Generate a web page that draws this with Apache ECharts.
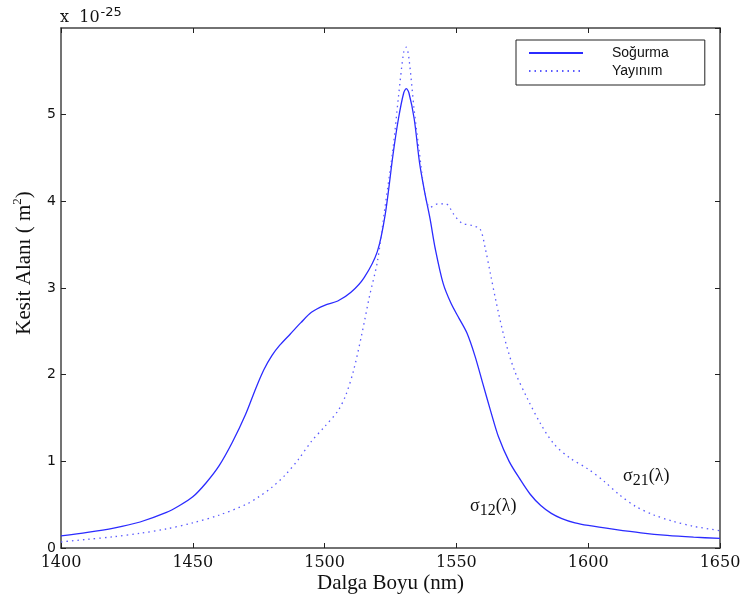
<!DOCTYPE html>
<html>
<head>
<meta charset="utf-8">
<script src="https://cdn.jsdelivr.net/npm/echarts@6/dist/echarts.min.js"></script>
<style>html,body{margin:0;padding:0;background:#fff}#c{width:744px;height:605px}</style>
</head>
<body>
<div id="c"></div>
<script>
var seriesNames = ['Soğurma', 'Yayınım'];
var xTicks = [1400, 1450, 1500, 1550, 1600, 1650];
var yTicks = [0, 1, 2, 3, 4, 5];

var absWl = [1400,1410,1420,1430,1440,1445,1450,1455,1460,1465,1470,1474,1477,1480,1483,1487,1491,1495,1500,1505,1510,1515,1520,1523,1526,1528,1530,1531,1532,1534,1536,1538,1540,1542,1545,1548,1551,1554,1557,1560,1563,1566,1570,1574,1578,1582,1586,1590,1595,1600,1610,1620,1630,1640,1650];
var absVal = [0.14,0.18,0.23,0.30,0.41,0.49,0.59,0.75,0.95,1.22,1.54,1.85,2.06,2.22,2.34,2.47,2.60,2.72,2.80,2.85,2.95,3.12,3.42,3.85,4.55,4.95,5.25,5.30,5.25,4.95,4.45,4.10,3.80,3.45,3.05,2.82,2.65,2.48,2.22,1.90,1.58,1.28,1.00,0.80,0.62,0.49,0.40,0.34,0.29,0.26,0.215,0.175,0.145,0.125,0.11];

var emWl = [1400,1410,1420,1430,1440,1450,1460,1470,1475,1480,1485,1490,1495,1500,1505,1508,1511,1514,1517,1520,1523,1526,1528,1530,1531,1532,1534,1536,1538,1540,1543,1546,1549,1552,1556,1559,1561,1563,1565,1568,1572,1577,1582,1587,1593,1600,1606,1612,1618,1625,1632,1640,1650];
var emVal = [0.07,0.10,0.13,0.17,0.22,0.29,0.38,0.50,0.59,0.70,0.84,1.02,1.23,1.40,1.58,1.76,2.05,2.45,2.90,3.30,3.95,4.62,5.20,5.72,5.78,5.65,5.05,4.55,4.10,3.93,3.97,3.97,3.85,3.75,3.72,3.68,3.45,3.15,2.85,2.45,2.05,1.72,1.43,1.20,1.04,0.91,0.77,0.61,0.48,0.38,0.31,0.25,0.20];

function pairs(xs, ys){ return xs.map(function(x,i){ return [x, ys[i]]; }); }

var chart = echarts.init(document.getElementById('c'), null, {renderer:'canvas'});
var axisCol = '#444';
var tickFontX = {fontFamily:'DejaVu Serif', fontSize:16, color:'#111'};
var tickFontY = {fontFamily:'DejaVu Sans', fontSize:14, color:'#111'};

chart.setOption({
  animation:false,
  backgroundColor:'#fff',
  grid:{left:61, right:24, top:28, bottom:57, containLabel:false},
  legend:{
    left:516, top:40, orient:'vertical',
    data:seriesNames,
    itemWidth:54, itemHeight:14, itemGap:4,
    padding:[6,36,7,12],
    itemStyle:{opacity:0},
    borderColor:'#222', borderWidth:1, backgroundColor:'#fff',
    textStyle:{fontFamily:'Liberation Sans', fontSize:14, color:'#111', padding:[0,0,0,24]}
  },
  xAxis:[{
    type:'value', min:1400, max:1650, interval:50,
    axisLine:{show:true, lineStyle:{color:axisCol, width:1.5}},
    axisTick:{show:true, inside:true, length:5, lineStyle:{color:'#222'}},
    axisLabel:Object.assign({margin:7, formatter:function(v){return xTicks.indexOf(v)>=0? String(v):'';}}, tickFontX),
    splitLine:{show:false},
    name:'Dalga Boyu (nm)', nameLocation:'middle', nameGap:25, nameMoveOverlap:false,
    nameTextStyle:{fontFamily:'Liberation Serif', fontSize:21, color:'#111'}
  },{
    type:'value', min:1400, max:1650, interval:50, position:'top',
    axisLine:{show:true, onZero:false, lineStyle:{color:axisCol, width:1.5}},
    axisTick:{show:true, inside:true, length:5, lineStyle:{color:'#222'}},
    axisLabel:{show:false}, splitLine:{show:false}
  }],
  yAxis:[{
    type:'value', min:0, max:6, interval:1,
    axisLine:{show:true, lineStyle:{color:axisCol, width:1.5}},
    axisTick:{show:true, inside:true, length:5, lineStyle:{color:'#222'}},
    axisLabel:Object.assign({margin:5, showMaxLabel:false, formatter:function(v){return yTicks.indexOf(v)>=0? String(v):'';}}, tickFontY),
    splitLine:{show:false}
  },{
    type:'value', min:0, max:6, interval:1, position:'right',
    axisLine:{show:true, onZero:false, lineStyle:{color:axisCol, width:1.5}},
    axisTick:{show:true, inside:true, length:5, lineStyle:{color:'#222'}},
    axisLabel:{show:false}, splitLine:{show:false}
  }],
  series:[{
    name:seriesNames[0], type:'line', data:pairs(absWl, absVal), smooth:0.3,
    showSymbol:false, symbol:'none',
    lineStyle:{color:'#2b2bff', width:1.3, type:'solid'},
    itemStyle:{color:'#2b2bff'}
  },{
    name:seriesNames[1], type:'line', data:pairs(emWl, emVal), smooth:0.3,
    showSymbol:false, symbol:'none',
    lineStyle:{color:'#5a5aff', width:1.3, type:[1.5,4]},
    itemStyle:{color:'#5a5aff'}
  }],
  graphic:[
    {type:'text', left:60, top:6, style:{
      text:'x  10{sup|-25}', fontFamily:'DejaVu Serif', fontSize:16, fill:'#111',
      rich:{sup:{fontFamily:'DejaVu Sans', fontSize:13, verticalAlign:'bottom', padding:[0,0,10,1], fill:'#111'}}
    }},
    {type:'text', x:24, y:263, rotation:Math.PI/2, style:{
      text:'Kesit Alanı ( m{sup|2})', fontFamily:'Liberation Serif', fontSize:21, fill:'#111',
      align:'center', verticalAlign:'middle',
      rich:{sup:{fontFamily:'Liberation Serif', fontSize:13, verticalAlign:'bottom', padding:[0,0,12,0], fill:'#111'}}
    }},
    {type:'text', left:470, top:497, style:{
      text:'σ{sub|12}(λ)', fontFamily:'Liberation Serif', fontSize:18, fill:'#111',
      rich:{sub:{fontFamily:'Liberation Serif', fontSize:16, verticalAlign:'top', padding:[10,0,0,0], fill:'#111'}}
    }},
    {type:'text', left:623, top:467, style:{
      text:'σ{sub|21}(λ)', fontFamily:'Liberation Serif', fontSize:18, fill:'#111',
      rich:{sub:{fontFamily:'Liberation Serif', fontSize:16, verticalAlign:'top', padding:[10,0,0,0], fill:'#111'}}
    }}
  ]
});
</script>
</body>
</html>
